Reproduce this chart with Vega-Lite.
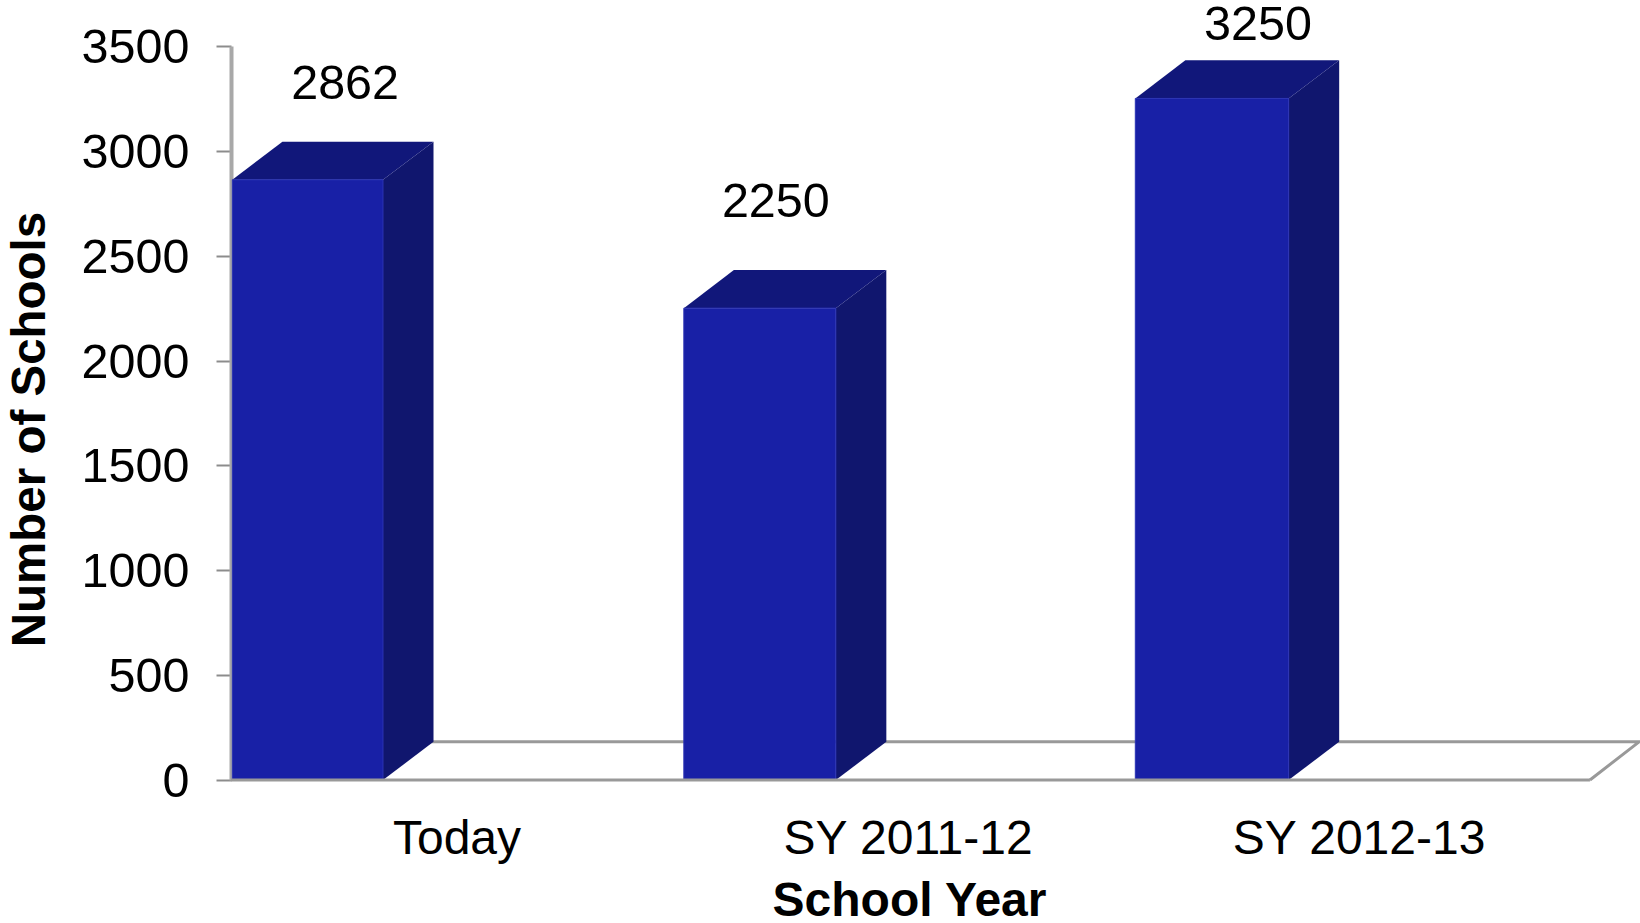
{
"$schema":"https://vega.github.io/schema/vega-lite/v6.json",
"autosize":{"type":"none"},
"padding":{"left":231,"top":46,"right":0,"bottom":143},
"width":1409,
"height":734,
"background":"white",
"config":{"view":{"stroke":null},"font":"Liberation Sans"},
"datasets":{
"bars":[
{"year":"Today","start":0.003,"end":0.337,"value":2862,"labelX":0.253,"labelY":3319},
{"year":"SY 2011-12","start":1.004,"end":1.341,"value":2250,"labelX":1.208,"labelY":2756},
{"year":"SY 2012-13","start":2.005,"end":2.345,"value":3250,"labelX":2.277,"labelY":3600}
],
"faces":[
{"bar":"Today","face":"side","x":0.337,"top":2862,"base":0},
{"bar":"Today","face":"side","x":0.449,"top":3044,"base":182},
{"bar":"Today","face":"top","x":0.003,"top":2862,"base":2862},
{"bar":"Today","face":"top","x":0.114,"top":3044,"base":2862},
{"bar":"Today","face":"top","x":0.337,"top":3044,"base":2862},
{"bar":"Today","face":"top","x":0.449,"top":3044,"base":3044},
{"bar":"SY 2011-12","face":"side","x":1.341,"top":2250,"base":0},
{"bar":"SY 2011-12","face":"side","x":1.453,"top":2432,"base":182},
{"bar":"SY 2011-12","face":"top","x":1.004,"top":2250,"base":2250},
{"bar":"SY 2011-12","face":"top","x":1.115,"top":2432,"base":2250},
{"bar":"SY 2011-12","face":"top","x":1.341,"top":2432,"base":2250},
{"bar":"SY 2011-12","face":"top","x":1.453,"top":2432,"base":2432},
{"bar":"SY 2012-13","face":"side","x":2.345,"top":3250,"base":0},
{"bar":"SY 2012-13","face":"side","x":2.457,"top":3432,"base":182},
{"bar":"SY 2012-13","face":"top","x":2.005,"top":3250,"base":3250},
{"bar":"SY 2012-13","face":"top","x":2.116,"top":3432,"base":3250},
{"bar":"SY 2012-13","face":"top","x":2.345,"top":3432,"base":3250},
{"bar":"SY 2012-13","face":"top","x":2.457,"top":3432,"base":3432}
],
"floorBack":[
{"x":0.111,"y":182,"o":1},
{"x":3.122,"y":182,"o":2},
{"x":3.013,"y":0,"o":3}
],
"floorFront":[
{"x":0,"y":0},
{"x":3.013,"y":0}
]
},
"layer":[
{
"data":{"name":"floorBack"},
"mark":{"type":"line","color":"#999999","strokeWidth":3,"interpolate":"linear"},
"encoding":{
"x":{"field":"x","type":"quantitative","scale":{"domain":[0,3.124],"nice":false,"zero":false},
"axis":{"values":[0.5,1.5,2.5],"labelExpr":"datum.value < 1 ? 'Today' : datum.value < 2 ? 'SY 2011-12' : 'SY 2012-13'","domain":false,"ticks":false,"grid":false,"labelFontSize":48,"labelColor":"#000000","labelFont":"Liberation Sans","labelPadding":35,"labelBaseline":"top","labelFlush":false,"labelOverlap":false,"labelLimit":600,"title":"School Year","titleFont":"Liberation Sans","titleFontSize":48,"titleFontWeight":"bold","titleColor":"#000000","titleX":678,"titleY":121,"titleAlign":"center","titleBaseline":"middle","titleAnchor":null}},
"y":{"field":"y","type":"quantitative","scale":{"domain":[0,3500],"nice":false},
"axis":{"values":[0,500,1000,1500,2000,2500,3000,3500],"format":"d","grid":false,"domain":true,"domainColor":"#a8a8a8","domainWidth":4,"tickColor":"#8c8c8c","tickWidth":2,"tickSize":15,"labelFontSize":48.5,"labelColor":"#000000","labelFont":"Liberation Sans","labelPadding":27,"labelOffset":1.5,"title":"Number of Schools","titleFont":"Liberation Sans","titleFontSize":47.5,"titleFontWeight":"bold","titleColor":"#000000","titleX":-201,"titleY":383,"titleAlign":"center","titleBaseline":"middle","titleAngle":-90}},
"order":{"field":"o","type":"quantitative"}
}
},
{
"data":{"name":"faces"},
"mark":{"type":"area","interpolate":"linear"},
"encoding":{
"x":{"field":"x","type":"quantitative","scale":{"domain":[0,3.124],"nice":false,"zero":false}},
"y":{"field":"top","type":"quantitative","scale":{"domain":[0,3500],"nice":false}},
"y2":{"field":"base"},
"detail":{"field":"bar"},
"color":{"field":"face","type":"nominal","scale":{"domain":["side","top"],"range":["#10166E","#11177A"]},"legend":null}
}
},
{
"data":{"name":"bars"},
"mark":{"type":"rect","color":"#1820A6","stroke":"#2A32B4","strokeWidth":1},
"encoding":{
"x":{"field":"start","type":"quantitative","scale":{"domain":[0,3.124],"nice":false,"zero":false}},
"x2":{"field":"end"},
"y":{"field":"value","type":"quantitative","scale":{"domain":[0,3500],"nice":false}},
"y2":{"datum":0}
}
},
{
"data":{"name":"floorFront"},
"mark":{"type":"line","color":"#999999","strokeWidth":3},
"encoding":{
"x":{"field":"x","type":"quantitative","scale":{"domain":[0,3.124],"nice":false,"zero":false}},
"y":{"field":"y","type":"quantitative","scale":{"domain":[0,3500],"nice":false}}
}
},
{
"data":{"name":"bars"},
"mark":{"type":"text","font":"Liberation Sans","fontSize":48.5,"color":"#000000","align":"center","baseline":"middle"},
"encoding":{
"x":{"field":"labelX","type":"quantitative","scale":{"domain":[0,3.124],"nice":false,"zero":false}},
"y":{"field":"labelY","type":"quantitative","scale":{"domain":[0,3500],"nice":false}},
"text":{"field":"value","type":"quantitative","format":"d"}
}
}
]
}
